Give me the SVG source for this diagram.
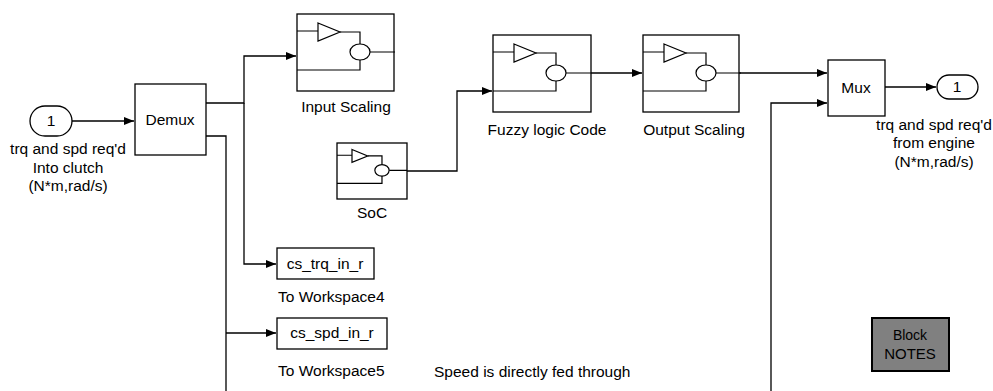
<svg xmlns="http://www.w3.org/2000/svg" width="993" height="391" viewBox="0 0 993 391">
<defs>
<marker id="arr" viewBox="0 0 10 8" refX="10" refY="4" markerWidth="10" markerHeight="8" markerUnits="userSpaceOnUse" orient="auto">
<path d="M0,0 L10,4 L0,8 Z" fill="#000"/>
</marker>
<g id="icon">
<path d="M0,17 H21 M43,18 H63 V30 M73,38 H98 M0,56 H63 V46" fill="none" stroke="#000" stroke-width="1.2"/>
<path d="M21,9 L43,18 L21,27 Z" fill="#fff" stroke="#000" stroke-width="1.2"/>
<ellipse cx="63" cy="38" rx="10" ry="8" fill="#fff" stroke="#000" stroke-width="1.2"/>
</g>
</defs>
<style>
text{font-family:"Liberation Sans",Arial,sans-serif;font-size:15.5px;fill:#000}
.blk{fill:#fff;stroke:#000;stroke-width:1.3}
.c{text-anchor:middle}
.w{fill:none;stroke:#000;stroke-width:1.3}
</style>
<rect width="993" height="391" fill="#fff"/>

<g id="connectors">
<path class="w" d="M72,121 H134" marker-end="url(#arr)"/>
<path class="w" d="M206,103 H244 V56 H296" marker-end="url(#arr)"/>
<path class="w" d="M244,103 V264 H276" marker-end="url(#arr)"/>
<path class="w" d="M206,136 H226 V391"/>
<path class="w" d="M226,333 H276" marker-end="url(#arr)"/>
<path class="w" d="M407,171 H457 V91 H492" marker-end="url(#arr)"/>
<path class="w" d="M591,73 H642" marker-end="url(#arr)"/>
<path class="w" d="M739,73 H827" marker-end="url(#arr)"/>
<path class="w" d="M771,391 V103 H827" marker-end="url(#arr)"/>
<path class="w" d="M885,87 H936" marker-end="url(#arr)"/>
</g>

<g id="inport">
<rect class="blk" x="30" y="106" width="42" height="30" rx="15" ry="15"/>
<text class="c" x="51" y="126">1</text>
<text class="c" x="68" y="154">trq and spd req'd</text>
<text class="c" x="68" y="173">Into clutch</text>
<text class="c" x="68" y="191">(N*m,rad/s)</text>
</g>

<g id="demux">
<rect class="blk" x="135" y="84" width="71" height="71"/>
<text class="c" x="170" y="125">Demux</text>
</g>

<g id="input-scaling">
<rect class="blk" x="297" y="14" width="97" height="77"/>
<use href="#icon" x="297" y="14"/>
<text class="c" x="346" y="112">Input Scaling</text>
</g>

<g id="soc">
<rect class="blk" x="337" y="143" width="70" height="56"/>
<g transform="translate(337,143) scale(0.714,0.72)">
<path d="M0,17 H21 M43,18 H63 V30 M73,38 H98 M0,56 H63 V46" fill="none" stroke="#000" stroke-width="1.7"/>
<path d="M21,9 L43,18 L21,27 Z" fill="#fff" stroke="#000" stroke-width="1.7"/>
<ellipse cx="63" cy="38" rx="10" ry="8" fill="#fff" stroke="#000" stroke-width="1.7"/>
</g>
<text class="c" x="372" y="218">SoC</text>
</g>

<g id="fuzzy">
<rect class="blk" x="493" y="35" width="98" height="77"/>
<use href="#icon" x="493" y="35"/>
<text class="c" x="547" y="135">Fuzzy logic Code</text>
</g>

<g id="output-scaling">
<rect class="blk" x="643" y="35" width="96" height="77"/>
<use href="#icon" x="643" y="35"/>
<text class="c" x="694" y="135">Output Scaling</text>
</g>

<g id="mux">
<rect class="blk" x="828" y="60" width="57" height="56"/>
<text class="c" x="856" y="93">Mux</text>
</g>

<g id="outport">
<rect class="blk" x="937" y="75" width="41" height="24" rx="12" ry="12"/>
<text class="c" x="957" y="92">1</text>
<text class="c" x="934" y="130">trq and spd req'd</text>
<text class="c" x="934" y="148">from engine</text>
<text class="c" x="934" y="167">(N*m,rad/s)</text>
</g>

<g id="ws4">
<rect class="blk" x="277" y="248" width="97" height="31"/>
<text class="c" x="325" y="269">cs_trq_in_r</text>
<text x="278" y="302">To Workspace4</text>
</g>

<g id="ws5">
<rect class="blk" x="277" y="318" width="110" height="31"/>
<text class="c" x="332" y="338">cs_spd_in_r</text>
<text x="278" y="376">To Workspace5</text>
</g>

<g id="note">
<text x="434" y="377">Speed is directly fed through</text>
</g>

<g id="block-notes">
<rect x="872" y="318" width="77" height="53" fill="#808080" stroke="#000" stroke-width="2"/>
<text class="c" x="910" y="340" style="font-size:14px">Block</text>
<text class="c" x="910" y="359" style="font-size:15px">NOTES</text>
</g>
</svg>
